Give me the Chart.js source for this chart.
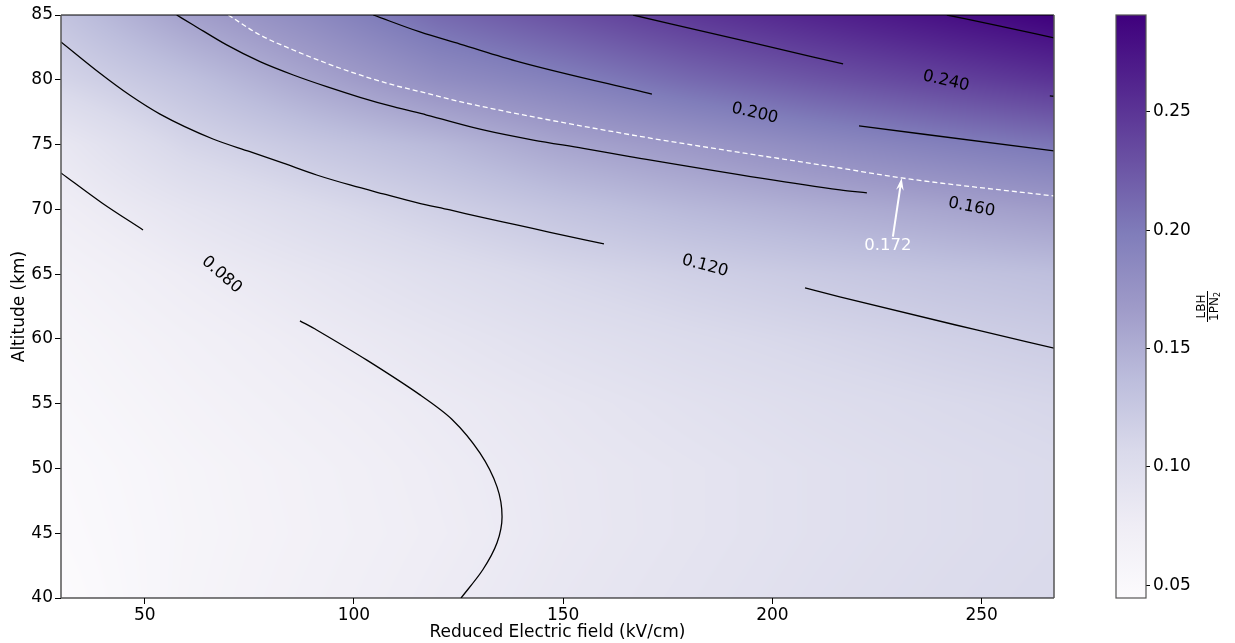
<!DOCTYPE html>
<html>
<head>
<meta charset="utf-8">
<script src="https://cdn.jsdelivr.net/npm/chart.js@4.4.1/dist/chart.umd.min.js"></script>
<style>
  html, body { margin: 0; padding: 0; background: #fff; }
  #wrap { position: relative; width: 1235px; height: 643px; }
  #main { position: absolute; left: 0; top: 0; }
  #cbar { position: absolute; left: 1100px; top: 0; }
</style>
</head>
<body>
<div id="wrap">
  <canvas id="main" width="1235" height="643"></canvas>
  <canvas id="cbar" width="135" height="643"></canvas>
</div>
<script>
// axis ticks
const xTicks = [50, 100, 150, 200, 250];
const yTicks = [40, 45, 50, 55, 60, 65, 70, 75, 80, 85];
const cbTicks = [0.05, 0.10, 0.15, 0.20, 0.25];
const xMin = 30, xMax = 267.3;
const cbMin = 0.0446, cbMax = 0.2909;

// LBH / 1PN2 ratio on a coarse grid
const xGrid = [30, 60, 90, 120, 150, 180, 210, 240, 267.3];
const altGrid = [40, 45, 50, 55, 60, 65, 70, 75, 80, 85];
const ratioGrid = [
  [0.0446, 0.060, 0.069, 0.078, 0.086, 0.092, 0.098, 0.103, 0.107],  // 40 km
  [0.048, 0.059, 0.067, 0.0755, 0.084, 0.090, 0.096, 0.101, 0.105],  // 45
  [0.050, 0.060, 0.068, 0.077, 0.0845, 0.090, 0.096, 0.101, 0.105],  // 50
  [0.054, 0.064, 0.073, 0.0805, 0.088, 0.095, 0.101, 0.106, 0.110],  // 55
  [0.058, 0.069, 0.079, 0.088, 0.097, 0.104, 0.110, 0.116, 0.121],   // 60
  [0.064, 0.077, 0.088, 0.099, 0.109, 0.117, 0.124, 0.130, 0.135],   // 65
  [0.074, 0.090, 0.104, 0.117, 0.130, 0.141, 0.150, 0.158, 0.166],   // 70
  [0.085, 0.111, 0.127, 0.141, 0.159, 0.171, 0.184, 0.195, 0.204],   // 75
  [0.112, 0.133, 0.158, 0.181, 0.195, 0.212, 0.226, 0.239, 0.251],   // 80
  [0.130, 0.162, 0.185, 0.212, 0.230, 0.248, 0.263, 0.278, 0.291]    // 85
];

// contour lines [field, altitude]
const c080a = [[30, 72.81], [39.8, 70.49], [49.6, 68.41]];
const c080b = [[87.1, 61.39], [91.1, 60.69], [103.0, 58.38], [115.8, 55.68], [123.4, 53.8], [130.1, 51.2],
               [134.2, 48.58], [135.4, 46.27], [134.2, 44.26], [130.8, 42.18], [125.6, 40.0]];
const c120a = [[30, 82.92], [39.32, 80.50], [46.49, 78.80], [53.66, 77.35], [66.32, 75.43], [75.16, 74.45],
               [83.12, 73.56], [91.10, 72.65], [99.07, 71.88], [107.01, 71.19], [114.99, 70.52],
               [122.95, 69.95], [130.91, 69.36], [138.89, 68.80], [146.85, 68.23], [159.75, 67.33]];
const c120b = [[207.8, 63.93], [216.1, 63.24], [248.8, 60.69], [267.3, 59.28]];
const c160 = [[57.65, 85], [61.61, 84.23], [69.59, 82.69], [77.55, 81.40], [85.51, 80.37], [93.49, 79.47],
              [101.45, 78.65], [109.40, 77.92], [117.38, 77.28], [130.91, 76.13], [142.86, 75.35],
              [154.80, 74.71], [165.96, 74.07], [216.15, 71.50], [222.59, 71.27]];
const c172 = [[69.98, 85], [77.55, 83.46], [85.51, 82.30], [93.49, 81.27], [101.45, 80.37], [109.40, 79.60],
              [117.38, 78.96], [125.34, 78.31], [163.58, 75.90], [216.15, 73.19], [230.96, 72.42], [267.28, 71.03]];
const c200a = [[104.62, 85], [115.78, 83.69], [125.34, 82.76], [139.68, 81.37], [171.22, 78.90]];
const c200b = [[220.7, 76.44], [267.3, 74.51]];
const c240a = [[166.7, 85], [195.4, 82.84], [216.9, 81.22]];
const c240b = [[266.3, 78.75], [267.3, 78.73]];
const c280 = [[241.7, 85], [254.4, 84.15], [267.3, 83.23]];

// inline contour labels
const levelLabels = ['0.080', '0.120', '0.160', '0.200', '0.240'];
const labelX = [68.4, 183.9, 247.6, 195.8, 241.5];
const labelAlt = [64.94, 65.63, 70.16, 77.41, 79.9];
const labelAngle = [41, 15, 11, 13, 13];

// annotation of the dashed contour
const noteText = '0.172';
const noteTip = [230.9, 72.42];
const noteTail = [228.8, 67.9];
const notePos = [227.6, 67.18];

const purples = ['#fcfbfd', '#efedf5', '#dadaeb', '#bcbddc', '#9e9ac8', '#807dba', '#6a51a3', '#54278f', '#3f007d'];
const stops = purples.map(h => [1, 3, 5].map(k => parseInt(h.substr(k, 2), 16)));

const cmap = (v) => {
    let t = (v - cbMin) / (cbMax - cbMin);
    t = Math.max(0, Math.min(1, t));
    const p = t * (stops.length - 1);
    const i = Math.min(Math.floor(p), stops.length - 2);
    const f = p - i;
    return stops[i].map((c, k) => c + (stops[i + 1][k] - c) * f);
};

const findCell = (arr, v) => {
    for (let i = 0; i < arr.length - 2; i++) if (v < arr[i + 1]) return i;
    return arr.length - 2;
};

const field = (xv, alt) => {
    const i = findCell(xGrid, xv), j = findCell(altGrid, alt);
    const fx = Math.max(0, Math.min(1, (xv - xGrid[i]) / (xGrid[i + 1] - xGrid[i])));
    const fy = Math.max(0, Math.min(1, (alt - altGrid[j]) / (altGrid[j + 1] - altGrid[j])));
    const a = ratioGrid[j][i], b = ratioGrid[j][i + 1];
    const c = ratioGrid[j + 1][i], d = ratioGrid[j + 1][i + 1];
    return (a * (1 - fx) + b * fx) * (1 - fy) + (c * (1 - fx) + d * fx) * fy;
};

const FONT = "'DejaVu Sans', 'Liberation Sans', sans-serif";
const toPts = arr => arr.map(([x, y]) => ({ x, y }));

// smooth: monotone along x, except the bent 0.080 branch
const line = (arr, opts = {}) => Object.assign({
    data: toPts(arr),
    showLine: true,
    pointRadius: 0,
    borderColor: '#000000',
    borderWidth: 1.3,
    cubicInterpolationMode: 'monotone'
}, opts);

// pcolormesh-like background
const heatmap = {
    id: 'heatmap',
    beforeDatasetsDraw(chart) {
        const { ctx, chartArea: a, scales: { x, y } } = chart;
        const l = Math.round(a.left), t = Math.round(a.top);
        const w = Math.round(a.right) - l, h = Math.round(a.bottom) - t;
        const img = ctx.createImageData(w, h);
        for (let j = 0; j < h; j++) {
            const alt = y.getValueForPixel(t + j + 0.5);
            for (let i = 0; i < w; i++) {
                const c = cmap(field(x.getValueForPixel(l + i + 0.5), alt));
                const o = (j * w + i) * 4;
                img.data[o] = c[0]; img.data[o + 1] = c[1]; img.data[o + 2] = c[2]; img.data[o + 3] = 255;
            }
        }
        ctx.putImageData(img, l, t);
    }
};

const overlay = {
    id: 'overlay',
    afterDatasetsDraw(chart) {
        const { ctx, chartArea: a, scales: { x, y } } = chart;
        ctx.save();
        ctx.font = '16.5px ' + FONT;
        ctx.textAlign = 'center';
        ctx.textBaseline = 'middle';
        ctx.fillStyle = '#000';
        levelLabels.forEach((txt, k) => {
            ctx.save();
            ctx.translate(x.getPixelForValue(labelX[k]), y.getPixelForValue(labelAlt[k]));
            ctx.rotate(labelAngle[k] * Math.PI / 180);
            ctx.fillText(txt, 0, 0);
            ctx.restore();
        });

        // arrow
        const tx = x.getPixelForValue(noteTip[0]), ty = y.getPixelForValue(noteTip[1]);
        const sx = x.getPixelForValue(noteTail[0]), sy = y.getPixelForValue(noteTail[1]);
        const ang = Math.atan2(ty - sy, tx - sx);
        ctx.strokeStyle = '#fff';
        ctx.fillStyle = '#fff';
        ctx.lineWidth = 2;
        ctx.beginPath();
        ctx.moveTo(sx, sy);
        ctx.lineTo(tx - 6 * Math.cos(ang), ty - 6 * Math.sin(ang));
        ctx.stroke();
        ctx.beginPath();
        ctx.moveTo(tx, ty);
        ctx.lineTo(tx - 13 * Math.cos(ang - 0.3), ty - 13 * Math.sin(ang - 0.3));
        ctx.lineTo(tx - 8 * Math.cos(ang), ty - 8 * Math.sin(ang));
        ctx.lineTo(tx - 13 * Math.cos(ang + 0.3), ty - 13 * Math.sin(ang + 0.3));
        ctx.closePath();
        ctx.fill();
        ctx.font = '16.5px ' + FONT;
        ctx.fillText(noteText, x.getPixelForValue(notePos[0]), y.getPixelForValue(notePos[1]));

        // spines
        ctx.lineWidth = 1.2;
        ctx.strokeStyle = '#000';
        ctx.beginPath();
        ctx.moveTo(a.left, a.top); ctx.lineTo(a.right, a.top);
        ctx.moveTo(a.left, a.bottom); ctx.lineTo(a.right, a.bottom);
        ctx.stroke();
        ctx.strokeStyle = '#555';
        ctx.lineWidth = 1.5;
        ctx.beginPath();
        ctx.moveTo(a.left, a.top); ctx.lineTo(a.left, a.bottom);
        ctx.moveTo(a.right, a.top); ctx.lineTo(a.right, a.bottom);
        ctx.stroke();
        ctx.restore();
    }
};

new Chart(document.getElementById('main'), {
    type: 'scatter',
    data: {
        datasets: [
            line(c080a), line(c080b, { cubicInterpolationMode: 'default', tension: 0.3 }),
            line(c120a), line(c120b), line(c160),
            line(c200a), line(c200b), line(c240a), line(c240b), line(c280),
            line(c172, { borderColor: '#ffffff', borderDash: [5, 3] })
        ]
    },
    options: {
        responsive: false,
        animation: false,
        layout: { padding: { left: 0, right: 181, top: 15, bottom: 0 } },
        plugins: { legend: { display: false }, tooltip: { enabled: false } },
        scales: {
            x: {
                type: 'linear', min: xMin, max: xMax,
                afterBuildTicks: s => { s.ticks = xTicks.map(v => ({ value: v })); },
                afterFit: s => { s.height = 45; },
                grid: { drawOnChartArea: false, tickLength: 6, color: '#000' },
                border: { display: false },
                ticks: { color: '#000', font: { family: FONT, size: 17 }, padding: 1, maxRotation: 0 },
                title: { display: true, text: 'Reduced Electric field (kV/cm)', color: '#000',
                         font: { family: FONT, size: 17 }, padding: { top: 0, bottom: 0 } }
            },
            y: {
                type: 'linear', min: 40, max: 85,
                afterBuildTicks: s => { s.ticks = yTicks.map(v => ({ value: v })); },
                afterFit: s => { s.width = 61; },
                grid: { drawOnChartArea: false, tickLength: 6, color: '#000' },
                border: { display: false },
                ticks: { color: '#000', font: { family: FONT, size: 17 }, padding: 2 },
                title: { display: true, text: 'Altitude (km)', color: '#000',
                         font: { family: FONT, size: 17 }, padding: { top: 9, bottom: 0 } }
            }
        }
    },
    plugins: [heatmap, overlay]
});

// colorbar
const cbarPaint = {
    id: 'cbarPaint',
    beforeDatasetsDraw(chart) {
        const { ctx, chartArea: a, scales: { y } } = chart;
        const g = ctx.createLinearGradient(0, y.getPixelForValue(cbMin), 0, y.getPixelForValue(cbMax));
        purples.forEach((c, k) => g.addColorStop(k / (purples.length - 1), c));
        ctx.save();
        ctx.fillStyle = g;
        ctx.fillRect(a.left, a.top, a.right - a.left, a.bottom - a.top);
        ctx.strokeStyle = '#555';
        ctx.lineWidth = 1.2;
        ctx.strokeRect(a.left, a.top, a.right - a.left, a.bottom - a.top);
        ctx.restore();
    },
    afterDraw(chart) {
        const { ctx } = chart;
        ctx.save();
        ctx.translate(107, 306.5);
        ctx.rotate(-Math.PI / 2);
        ctx.fillStyle = '#000';
        ctx.strokeStyle = '#000';
        ctx.font = '12px ' + FONT;
        const wN = ctx.measureText('LBH').width;
        const wD = ctx.measureText('1PN').width;
        ctx.font = '8px ' + FONT;
        const wS = ctx.measureText('2').width;
        const wBar = Math.max(wN, wD + wS) + 2;
        ctx.lineWidth = 1;
        ctx.beginPath();
        ctx.moveTo(-wBar / 2, 0.5);
        ctx.lineTo(wBar / 2, 0.5);
        ctx.stroke();
        ctx.font = '12px ' + FONT;
        ctx.textBaseline = 'alphabetic';
        ctx.textAlign = 'left';
        ctx.fillText('LBH', -wN / 2, -2);
        const d0 = -(wD + wS) / 2;
        ctx.fillText('1PN', d0, 11);
        ctx.font = '8px ' + FONT;
        ctx.fillText('2', d0 + wD, 13);
        ctx.restore();
    }
};

new Chart(document.getElementById('cbar'), {
    type: 'scatter',
    data: { datasets: [{ data: [] }] },
    options: {
        responsive: false,
        animation: false,
        layout: { padding: { left: 16, right: 0, top: 15, bottom: 45 } },
        plugins: { legend: { display: false }, tooltip: { enabled: false } },
        scales: {
            x: { display: false, min: 0, max: 1 },
            y: {
                position: 'right', min: cbMin, max: cbMax,
                afterBuildTicks: s => { s.ticks = cbTicks.map(v => ({ value: v })); },
                afterFit: s => { s.width = 89; },
                grid: { drawOnChartArea: false, tickLength: 4, color: '#000' },
                border: { display: false },
                ticks: { color: '#000', font: { family: FONT, size: 17 }, padding: 3,
                         callback: v => v.toFixed(2) }
            }
        }
    },
    plugins: [cbarPaint]
});
</script>
</body>
</html>
